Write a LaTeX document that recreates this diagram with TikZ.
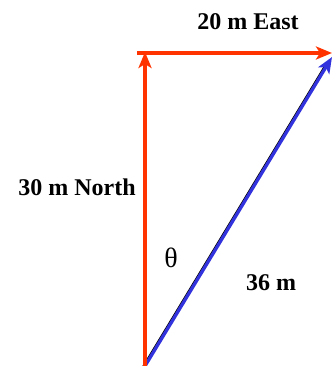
\documentclass[tikz,border=0pt]{standalone}
\usepackage{fontspec}
\setmainfont{Liberation Serif}
\usetikzlibrary{arrows.meta}
\definecolor{vred}{HTML}{FF3300}
\definecolor{vblue}{HTML}{3333DD}
\tikzset{
  lbl/.style={font=\fontsize{24}{28}\selectfont\bfseries, inner sep=0pt},
  vec/.style={line width=3.3pt, -{Stealth[length=16pt,width=13pt,inset=4pt]}},
}
\begin{document}
\begin{tikzpicture}[x=1pt,y=-1pt]
\useasboundingbox (0,0) rectangle (332,366);
\coordinate (O) at (145,366);
\coordinate (N) at (145,52);
\coordinate (S) at (137,53);
\coordinate (E) at (332,53);
\coordinate (Eb) at (332,57);
% resultant
\draw[black, line width=1.2pt, shorten >=12pt] ([xshift=-2pt]O) -- ([xshift=-2pt]Eb);
\draw[vec, vblue] (O) -- (Eb);
% components
\draw[vec, vred] (O) -- (N);
\draw[vec, vred] (S) -- (E);
\node[lbl] (east) at (248,22) {20 m East};
\node[lbl] (north) at (77,187) {30 m North};
\node[lbl] (res) at (271,283) {36 m};
\node[font=\fontsize{28}{32}\selectfont, inner sep=0pt] (th) at (171,258) {θ};
\end{tikzpicture}
\end{document}
